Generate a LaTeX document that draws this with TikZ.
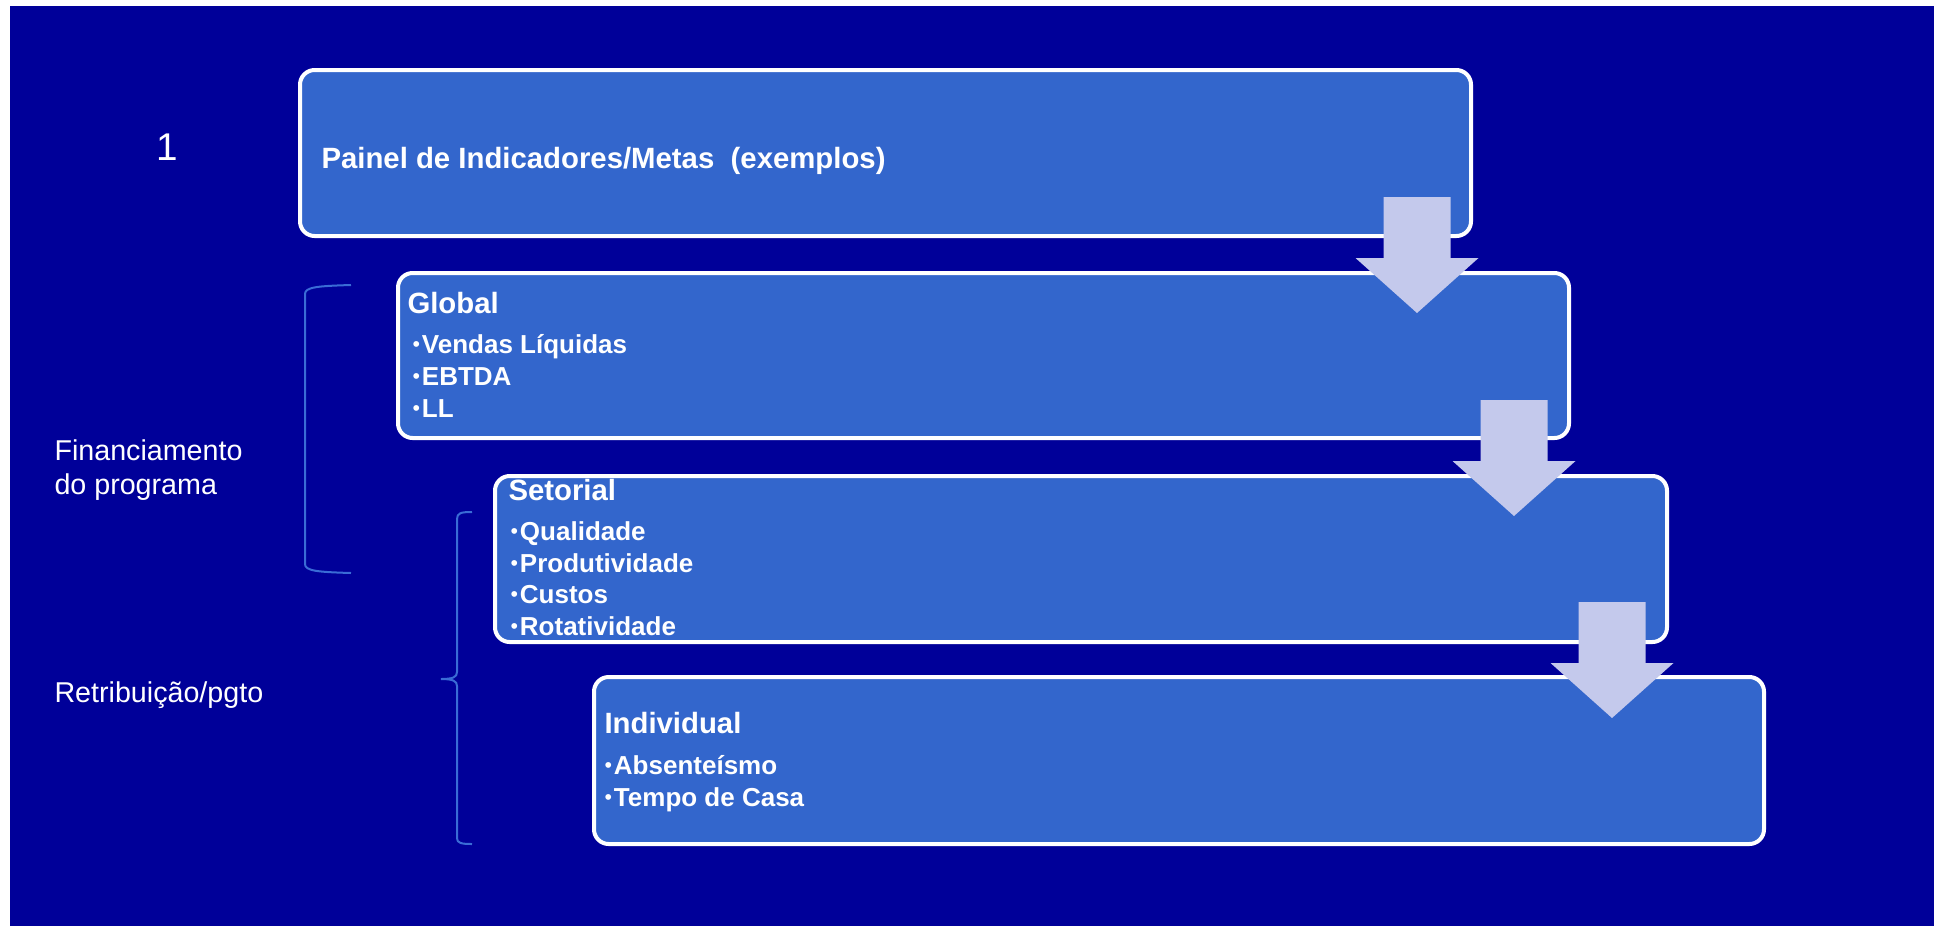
\documentclass[tikz,border=0pt]{standalone}
\usepackage{fontspec}
\setmainfont{Liberation Sans}

\definecolor{fundo}{RGB}{0,0,153}
\definecolor{azulcaixa}{RGB}{51,102,204}
\definecolor{lilas}{RGB}{196,201,236}
\definecolor{azulchave}{RGB}{58,108,214}

\newcommand\marcador{\raisebox{1.5pt}{\mdseries\fontsize{16}{16}\selectfont •}\hspace{1.5pt}}

\tikzset{every picture/.style={line width=0.75pt}}
\tikzset{
  caixa/.style={draw=white, fill=azulcaixa, line width=3pt, rounded corners=11pt},
  setabaixo/.style={fill=lilas, draw=none},
  chave/.style={draw=azulchave, line width=1.5pt},
  titulo/.style={text=white, font=\bfseries\fontsize{22}{26}\selectfont, anchor=base west, inner sep=0pt},
  item/.style={text=white, font=\bfseries\fontsize{19.5}{24}\selectfont, anchor=base west, inner sep=0pt},
  rotulo/.style={text=white, font=\fontsize{21.5}{26}\selectfont, anchor=base west, inner sep=0pt},
}

\begin{document}
\begin{tikzpicture}[x=0.75pt,y=0.75pt,yscale=-1,xscale=1]
\useasboundingbox (0,0) rectangle (1934,926);

%Shape: Rectangle [fundo]
\fill[fundo] (10,6) rectangle (1934,926);

%Shape: Rounded Rect [painel]
\draw[caixa] (300,70) rectangle (1471,236);
%Shape: Rounded Rect [global]
\draw[caixa] (398,273) rectangle (1569,438);
%Shape: Rounded Rect [setorial]
\draw[caixa] (495,476) rectangle (1667,642);
%Shape: Rounded Rect [individual]
\draw[caixa] (594,677) rectangle (1764,844);

%Shape: Down Arrows
\foreach \x/\y in {1417/313, 1514/516, 1612/718}
  \fill[setabaixo] (\x-33.5,\y-116) -- (\x+33.5,\y-116) -- (\x+33.5,\y-55) -- (\x+61.5,\y-55)
    -- (\x,\y) -- (\x-61.5,\y-55) -- (\x-33.5,\y-55) -- cycle ;

%Curve Lines [chave financiamento]
\draw[chave] (351,285) .. controls (318,286) and (305,287) .. (305,294) -- (305,564) .. controls (305,571) and (318,572) .. (351,573) ;
%Curve Lines [chave retribuicao]
\draw[chave] (472,512) .. controls (461,512) and (457,513) .. (457,519) -- (457,672) .. controls (457,677) and (453,679) .. (441,679)
  .. controls (453,679) and (457,681) .. (457,686) -- (457,838) .. controls (457,843) and (461,844) .. (472,844) ;

% Text Node
\node[rotulo, font=\fontsize{29}{34}\selectfont, anchor=base] (num) at (167,160) {1};
% Text Node
\node[rotulo] (financ1) at (54,460) {Financiamento};
% Text Node
\node[rotulo] (financ2) at (54,494) {do programa};
% Text Node
\node[rotulo] (retrib) at (54,702) {Retribuição/pgto};

% Text Node
\node[titulo] (tpainel) at (321,168) {Painel de Indicadores/Metas\ \ (exemplos)};

% Text Node
\node[titulo] (tglobal) at (407,313) {Global};
\node[item] (vendas) at (412,353) {\marcador Vendas Líquidas};
\node[item] (ebtda) at (412,385) {\marcador EBTDA};
\node[item] (ll) at (412,417) {\marcador LL};

% Text Node
\node[titulo] (tsetorial) at (508,500) {Setorial};
\node[item] (qualid) at (510,540) {\marcador Qualidade};
\node[item] (produt) at (510,572) {\marcador Produtividade};
\node[item] (custos) at (510,603) {\marcador Custos};
\node[item] (rotat) at (510,635) {\marcador Rotatividade};

% Text Node
\node[titulo] (tindividual) at (604,733) {Individual};
\node[item] (absent) at (604,774) {\marcador Absenteísmo};
\node[item] (tempo) at (604,806) {\marcador Tempo de Casa};

\end{tikzpicture}
\end{document}
